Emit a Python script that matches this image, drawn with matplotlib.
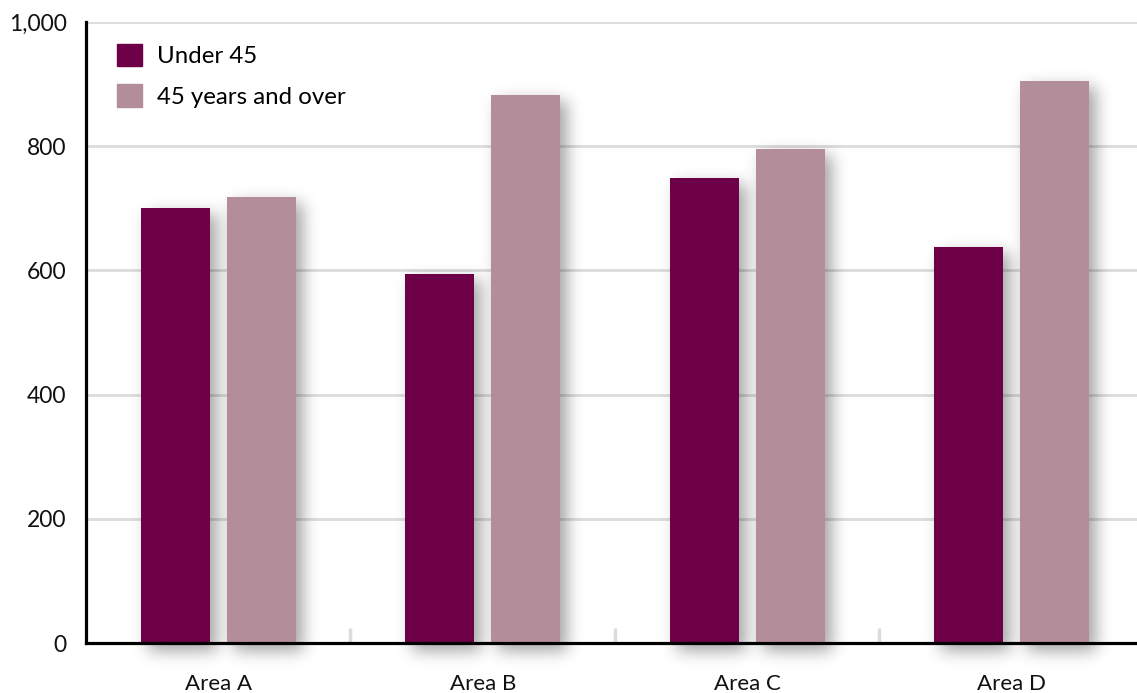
import numpy as np
import matplotlib
matplotlib.use("Agg")
import matplotlib.pyplot as plt
from matplotlib.patches import Patch

categories = ["Area A", "Area B", "Area C", "Area D"]
under_45 = [700, 594, 749, 638]
over_45 = [718, 882, 795, 905]
series_names = ["Under 45", "45 years and over"]
y_ticks = [0, 200, 400, 600, 800, 1000]
y_tick_labels = ["0", "200", "400", "600", "800", "1,000"]

DARK = "#6d0047"
LIGHT = "#b38e9a"
GRID = "#dcdcdc"

plt.rcParams["font.family"] = ["Lato", "DejaVu Sans"]

W, H, DPI = 1137, 693, 100
fig = plt.figure(figsize=(W / DPI, H / DPI), dpi=DPI)
ax = fig.add_axes([86 / W, 50 / H, 1 - 86 / W, 621 / H])

x = np.arange(len(categories))
offset = 0.1626
width = 0.261
xlim = (-0.5, -0.5 + (W - 86) / 264.5)
ylim = (0, 1000)

b1 = ax.bar(x - offset, under_45, width, color=DARK, zorder=3, label=series_names[0])
b2 = ax.bar(x + offset, over_45, width, color=LIGHT, zorder=3, label=series_names[1])

ax.set_xlim(*xlim)
ax.set_ylim(*ylim)

# soft drop shadow behind each bar, built as a blurred alpha mask in pixel space
mask = np.zeros((H, W))
dx, dy = 7, 6
for bar in list(b1) + list(b2):
    (x0, y0), (x1, y1) = ax.transData.transform(
        [(bar.get_x(), 0), (bar.get_x() + bar.get_width(), bar.get_height())])
    c0, c1 = int(round(x0 + dx)), int(round(x1 + dx))
    r0, r1 = int(round(H - y1 + dy)), int(round(H - y0 + 8))
    mask[max(r0, 0):min(r1, H), max(c0, 0):min(c1, W)] = 1.0

def blur(a, sigma):
    r = int(3 * sigma)
    k = np.exp(-0.5 * (np.arange(-r, r + 1) / sigma) ** 2)
    k /= k.sum()
    a = np.apply_along_axis(lambda v: np.convolve(v, k, mode="same"), 0, a)
    a = np.apply_along_axis(lambda v: np.convolve(v, k, mode="same"), 1, a)
    return a

mask = blur(mask, 8.0)
shadow = np.zeros((H, W, 4))
shadow[..., 3] = np.clip(mask * 0.36, 0, 1)
inv = ax.transData.inverted()
(ex0, ey0), (ex1, ey1) = inv.transform([(0, 0), (W, H)])
ax.imshow(shadow, extent=(ex0, ex1, ey0, ey1), origin="upper", aspect="auto",
          zorder=2, clip_on=False, interpolation="nearest")
ax.set_xlim(*xlim)
ax.set_ylim(*ylim)

# grid and spines
ax.set_yticks(y_ticks)
ax.set_yticklabels(y_tick_labels, fontsize=16.5, color="#111111")
ax.yaxis.grid(True, color=GRID, linewidth=2.0, zorder=1)
ax.set_axisbelow(True)
ax.tick_params(axis="y", length=0, pad=14)

ax.set_xticks(x)
ax.set_xticklabels(categories, fontsize=16, color="#111111")
ax.tick_params(axis="x", length=0, pad=22)
ax.set_xticks(x[:-1] + 0.5, minor=True)
ax.tick_params(axis="x", which="minor", direction="in", length=11,
               width=2.5, color=GRID)

for side in ("top", "right"):
    ax.spines[side].set_visible(False)
for side in ("left", "bottom"):
    ax.spines[side].set_linewidth(2.3)
    ax.spines[side].set_color("black")
    ax.spines[side].set_zorder(5)

handles = [Patch(color=DARK), Patch(color=LIGHT)]
ax.legend(handles, series_names, loc="upper left", bbox_to_anchor=(0.009, 1.0),
          frameon=False, fontsize=17.3, handlelength=1.04, handleheight=1.08,
          handletextpad=0.62, labelspacing=0.7)

fig.savefig("out.png", dpi=DPI)
